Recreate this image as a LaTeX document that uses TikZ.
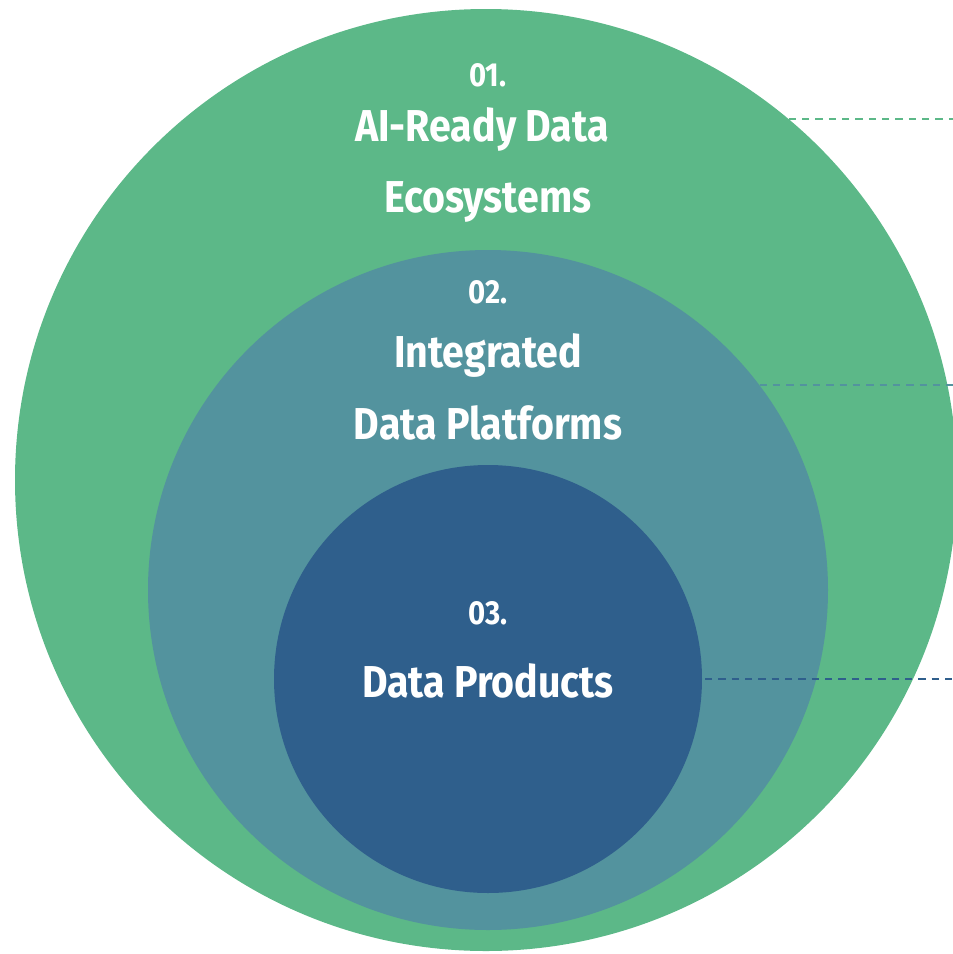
\documentclass[tikz,border=0pt]{standalone}
\usepackage{fontspec}
\newfontfamily\condfont{Fira Sans}[FakeStretch=0.88]
\usetikzlibrary{calc}

\definecolor{ecoGreen}{RGB}{92,184,136}
\definecolor{platTeal}{RGB}{83,147,158}
\definecolor{prodBlue}{RGB}{47,95,140}

\tikzset{
  ring/.style={circle, inner sep=0pt, outer sep=0pt, draw=none},
  numlabel/.style={anchor=base, text=white, inner sep=0.75pt, font=\condfont\bfseries\fontsize{25}{30}\selectfont},
  titlelabel/.style={anchor=base, text=white, inner sep=0.75pt, font=\condfont\bfseries\fontsize{33.5}{40}\selectfont},
  leader/.style={dashed, dash pattern=on 5.5pt off 4.5pt, line width=1.35pt}
}

\begin{document}
\begin{tikzpicture}[x=0.75pt,y=0.75pt,yscale=-1,xscale=1]
\useasboundingbox (0,0) rectangle (953,954);

%Shape: Circle [eco]
\node [ring, fill=ecoGreen, minimum size=706.5pt] (eco) at (486,480) {};
%Shape: Circle [plat]
\node [ring, fill=platTeal, minimum size=510pt] (plat) at (488,590) {};
%Shape: Circle [prod]
\node [ring, fill=prodBlue, minimum size=321pt] (prod) at (488,679) {};

%right edge of the picture
\coordinate (rim) at (953,0);

%Dashed Lines
\draw [leader, color=ecoGreen] (eco.50) -- (eco.50 -| rim);
\draw [leader, color=platTeal] (plat.37) -- (plat.37 -| rim);
\draw [leader, color=prodBlue] ($(prod.east)+(3,0)$) -- (prod.east -| rim);

% Text Node
\node [numlabel] (ecoNum) at (488,86) {01.};
% Text Node
\node [titlelabel] (ecoTitleA) at (482,141) {AI-Ready Data};
% Text Node
\node [titlelabel] (ecoTitleB) at (488,212) {Ecosystems};
% Text Node
\node [numlabel] (platNum) at (488,303) {02.};
% Text Node
\node [titlelabel] (platTitleA) at (488,367) {Integrated};
% Text Node
\node [titlelabel] (platTitleB) at (488,439) {Data Platforms};
% Text Node
\node [numlabel] (prodNum) at (488,624) {03.};
% Text Node
\node [titlelabel] (prodTitle) at (488,697) {Data Products};

\end{tikzpicture}
\end{document}
